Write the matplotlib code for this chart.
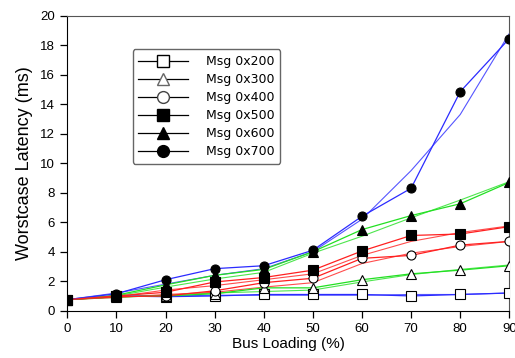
import matplotlib
matplotlib.use("Agg")
import matplotlib.pyplot as plt
from matplotlib.lines import Line2D

# bus loading (%)
loading = [0, 10, 20, 30, 40, 50, 60, 70, 80, 90]

# measured worst-case latency (ms), one list per message id
msg200 = [0.75, 1.0, 0.95, 1.0, 1.1, 1.1, 1.1, 1.0, 1.1, 1.2]
msg300 = [0.75, 0.95, 1.0, 1.15, 1.55, 1.55, 2.1, 2.5, 2.75, 3.05]
msg400 = [0.75, 0.95, 1.0, 1.35, 1.9, 2.2, 3.55, 3.75, 4.45, 4.7]
msg500 = [0.75, 1.0, 1.25, 1.95, 2.25, 2.75, 4.05, 5.1, 5.2, 5.7]
msg600 = [0.75, 1.05, 1.75, 2.4, 2.8, 4.0, 5.5, 6.45, 7.25, 8.7]
msg700 = [0.75, 1.15, 2.1, 2.85, 3.05, 4.1, 6.4, 8.3, 14.85, 18.45]

# second (unmarked) run of each message
run200 = [0.75, 1.0, 1.0, 1.05, 1.05, 1.05, 1.05, 1.1, 1.1, 1.2]
run300 = [0.75, 0.9, 1.05, 1.2, 1.3, 1.4, 1.95, 2.45, 2.8, 3.1]
run400 = [0.75, 0.9, 1.1, 1.25, 1.6, 1.9, 3.2, 3.9, 4.35, 4.7]
run500 = [0.75, 0.95, 1.4, 1.7, 2.1, 2.5, 3.75, 4.7, 5.3, 5.75]
run600 = [0.75, 1.0, 1.6, 2.15, 2.6, 3.9, 5.05, 6.3, 7.5, 8.75]
run700 = [0.75, 1.2, 1.8, 2.4, 2.85, 4.0, 6.2, 9.5, 13.3, 18.8]

labels = ["Msg 0x200", "Msg 0x300", "Msg 0x400", "Msg 0x500", "Msg 0x600", "Msg 0x700"]

BLUE = "#2b2bff"
GREEN = "#22e022"
RED = "#ff2020"

# label, measured, second run, line colour, marker, marker fill
series = [
    (labels[0], msg200, run200, BLUE, "s", "white"),
    (labels[1], msg300, run300, GREEN, "^", "white"),
    (labels[2], msg400, run400, RED, "o", "white"),
    (labels[4], msg600, run600, GREEN, "^", "black"),
    (labels[5], msg700, run700, BLUE, "o", "black"),
    (labels[3], msg500, run500, RED, "s", "black"),
]

plt.rcParams["font.family"] = ["Liberation Sans", "DejaVu Sans"]

fig = plt.figure(figsize=(5.15, 3.58), dpi=100)
ax = fig.add_axes([0.1307, 0.1321, 0.8583, 0.8240])

for name, meas, run, col, mk, fill in series:
    ax.plot(loading, run, color=col, lw=0.8, alpha=0.8, zorder=2)
    ax.plot(loading, meas, color=col, lw=0.9, zorder=3)
    ax.plot(loading, meas, linestyle="none", marker=mk, markersize=6.5,
            markerfacecolor=fill, markeredgecolor="black", markeredgewidth=0.8,
            zorder=4)

ax.set_xlim(0, 90)
ax.set_ylim(0, 20)
ax.set_xticks(loading)
ax.set_yticks(range(0, 21, 2))
ax.tick_params(direction="out", length=5, width=0.9, labelsize=9.5, pad=4)
ax.set_xlabel("Bus Loading (%)", fontsize=11, labelpad=1)
ax.set_ylabel("Worstcase Latency (ms)", fontsize=13, labelpad=5)

for side in ["top", "right"]:
    ax.spines[side].set_color("#555555")
for side in ["left", "bottom"]:
    ax.spines[side].set_color("black")

# legend with black proxy lines
handles = [
    Line2D([], [], color="black", lw=0.9, marker="s", markerfacecolor="white", markeredgecolor="black", markersize=8.5),
    Line2D([], [], color="black", lw=0.9, marker="^", markerfacecolor="white", markeredgecolor="#666666", markersize=8.5),
    Line2D([], [], color="black", lw=0.9, marker="o", markerfacecolor="white", markeredgecolor="#444444", markersize=8.5),
    Line2D([], [], color="black", lw=0.9, marker="s", markerfacecolor="black", markeredgecolor="black", markersize=8.5),
    Line2D([], [], color="black", lw=0.9, marker="^", markerfacecolor="black", markeredgecolor="black", markersize=8.5),
    Line2D([], [], color="black", lw=0.9, marker="o", markerfacecolor="black", markeredgecolor="black", markersize=8.5),
]
leg = ax.legend(handles, labels, loc="upper left", bbox_to_anchor=(0.148, 0.886),
                frameon=True, fancybox=True,
                prop={"family": "DejaVu Sans", "size": 9},
                handlelength=4.0, handletextpad=1.4, labelspacing=0.4,
                borderpad=0.45, borderaxespad=0)
leg.get_frame().set_edgecolor("#666666")
leg.get_frame().set_linewidth(1.0)
leg.get_frame().set_alpha(1)

fig.savefig("out.png", dpi=100)
